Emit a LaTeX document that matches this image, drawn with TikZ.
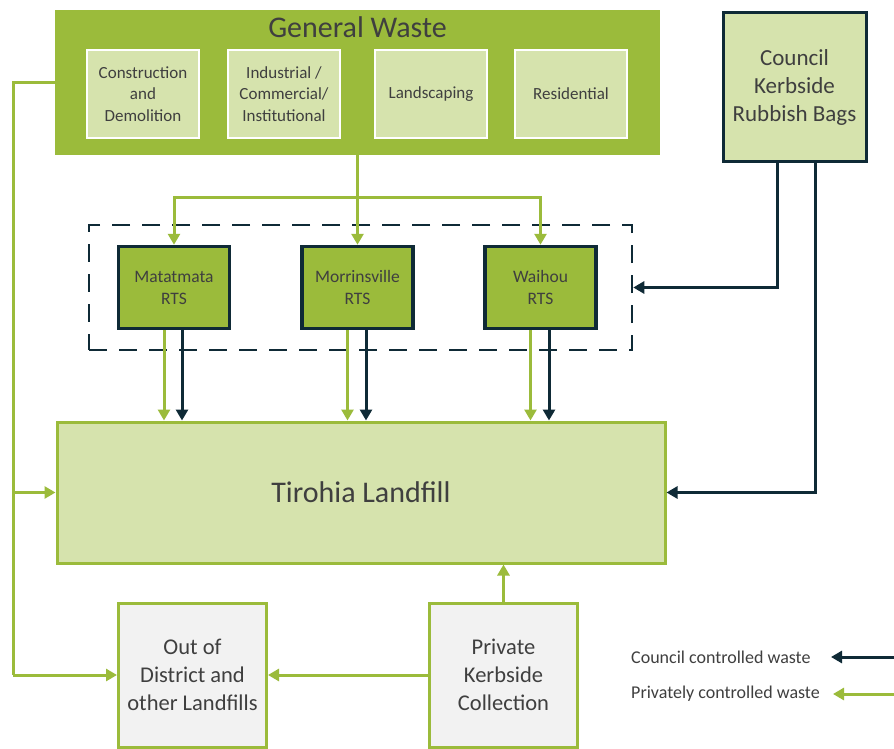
\documentclass[tikz,border=0pt]{standalone}
\usepackage{fontspec}
\setmainfont{Carlito}
\usetikzlibrary{arrows.meta}
\definecolor{wgreen}{HTML}{9BBB3B}
\definecolor{lgreen}{HTML}{D6E3AD}
\definecolor{wdark}{HTML}{0F2A36}
\definecolor{wgray}{HTML}{F2F2F2}
\definecolor{wtext}{HTML}{3F3F3F}
\tikzset{
  gwbox/.style={fill=wgreen, draw=none, minimum width=605pt, minimum height=145pt, inner sep=0pt},
  subbox/.style={fill=lgreen, draw=white, line width=2pt, minimum width=112pt, minimum height=88pt, align=center, font=\fontsize{17}{21.5}\selectfont, text=wtext, inner sep=0pt},
  rtsbox/.style={fill=wgreen, draw=wdark, line width=3.5pt, minimum width=111pt, minimum height=82pt, align=center, font=\fontsize{17.5}{22}\selectfont, text=wtext, inner sep=0pt},
  councilbox/.style={fill=lgreen, draw=wdark, line width=3pt, minimum width=143pt, minimum height=148pt, align=center, font=\fontsize{23}{28}\selectfont, text=wtext, inner sep=0pt},
  landbox/.style={fill=lgreen, draw=wgreen, line width=3pt, minimum width=608pt, minimum height=141pt, font=\fontsize{30}{36}\selectfont, text=wtext, inner sep=0pt},
  greybox/.style={fill=wgray, draw=wgreen, line width=3pt, minimum width=148pt, minimum height=144pt, align=center, font=\fontsize{22.5}{28}\selectfont, text=wtext, inner sep=0pt},
  dashbox/.style={draw=wdark, line width=2.5pt, dash pattern=on 18pt off 12pt, minimum width=543pt, minimum height=125pt, inner sep=0pt},
  legtext/.style={anchor=west, font=\fontsize{18}{22}\selectfont, text=wtext, inner sep=0pt},
  garrow/.style={draw=wgreen, line width=3pt, -{Triangle[length=11pt,width=12pt]}},
  gline/.style={draw=wgreen, line width=3pt},
  darrow/.style={draw=wdark, line width=3pt, -{Triangle[length=11pt,width=12pt]}},
  dline/.style={draw=wdark, line width=3pt},
}
\begin{document}
\begin{tikzpicture}[x=1pt,y=-1pt]
\useasboundingbox[fill=white] (0,0) rectangle (894,749);
% General waste
\node[gwbox] (gw) at (357.5,82.5) {};
\node[font=\fontsize{30}{36}\selectfont, text=wtext, inner sep=0pt] (gwtitle) at (357.5,27) {General Waste};
\node[subbox] (cd) at (143,94) {Construction\\and\\Demolition};
\node[subbox] (ic) at (284,94) {Industrial /\\Commercial/\\Institutional};
\node[subbox] (ls) at (431,94) {Landscaping};
\node[subbox] (rs) at (571,94) {Residential};
% Council
\node[councilbox] (council) at (794.5,87) {Council\\Kerbside\\Rubbish Bags};
% RTS group
\node[dashbox] (grp) at (360.5,287.5) {};
\node[rtsbox] (mat) at (174,287.5) {Matatmata\\RTS};
\node[rtsbox] (mor) at (357.5,287.5) {Morrinsville\\RTS};
\node[rtsbox] (wai) at (540.5,287.5) {Waihou\\RTS};
% Landfill
\node[landbox] (tir) at (361,492.5) {Tirohia Landfill};
% bottom boxes
\node[greybox] (out) at (192.5,675) {Out of\\District and\\other Landfills};
\node[greybox] (priv) at (503.5,675) {Private\\Kerbside\\Collection};
% legend
\node[legtext] (lc) at (631,657) {Council controlled waste};
\node[legtext] (lp) at (631,694) {Privately controlled waste};
\coordinate (lcs) at (900,657);
\coordinate (lce) at (831,657);
\coordinate (lps) at (900,694);
\coordinate (lpe) at (833,694);
\draw[darrow] (lcs) -- (lce);
\draw[garrow] (lps) -- (lpe);
% General waste to RTS
\coordinate (split) at (357.5,197);
\draw[gline] (gw.south -| split) -- (split);
\draw[garrow] (split) -| (mat.north);
\draw[garrow] (split) -| (wai.north);
\draw[garrow] (split) -- (mor.north);
% left line
\coordinate (lt) at (13,82.5);
\coordinate (lm) at (13,492.5);
\coordinate (lb) at (13,675);
\draw[gline] (gw.west) -- (lt) -- (lb);
\draw[garrow] (lm) -- (tir.west);
\draw[garrow] (lb) -- (out.west);
% council lines
\draw[darrow] ([xshift=-17.5pt]council.south) |- (grp.east);
\draw[darrow] ([xshift=20.5pt]council.south) |- (tir.east);
% RTS to landfill
\draw[garrow] ([xshift=-10pt]mat.south) -- ([xshift=-10pt]mat.south |- tir.north);
\draw[darrow] ([xshift=8pt]mat.south) -- ([xshift=8pt]mat.south |- tir.north);
\draw[garrow] ([xshift=-10pt]mor.south) -- ([xshift=-10pt]mor.south |- tir.north);
\draw[darrow] ([xshift=8.5pt]mor.south) -- ([xshift=8.5pt]mor.south |- tir.north);
\draw[garrow] ([xshift=-10pt]wai.south) -- ([xshift=-10pt]wai.south |- tir.north);
\draw[darrow] ([xshift=8.5pt]wai.south) -- ([xshift=8.5pt]wai.south |- tir.north);
% private
\draw[garrow] (priv.north) -- (priv.north |- tir.south);
\draw[garrow] (priv.west) -- (out.east);
\end{tikzpicture}
\end{document}
